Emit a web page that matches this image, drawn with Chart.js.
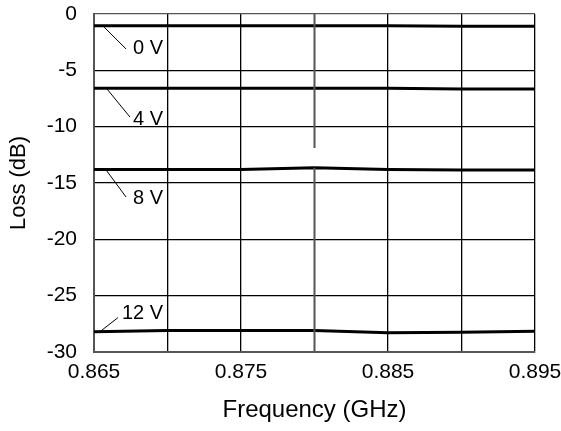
<!DOCTYPE html>
<html>
<head>
<meta charset="utf-8">
<script src="https://cdn.jsdelivr.net/npm/chart.js@4/dist/chart.umd.min.js"></script>
<style>
  html, body { margin: 0; padding: 0; background: #fff; }
  #wrap { width: 561px; height: 431px; }
</style>
</head>
<body>
<div id="wrap"><canvas id="loss-chart"></canvas></div>
<script>
const freqs = [0.865, 0.870, 0.875, 0.880, 0.885, 0.890, 0.895];
const loss0V = [-1.05, -1.05, -1.05, -1.05, -1.05, -1.08, -1.08];
const loss4V = [-6.6, -6.6, -6.6, -6.6, -6.6, -6.65, -6.65];
const loss8V = [-13.8, -13.8, -13.8, -13.65, -13.8, -13.85, -13.85];
const loss12V = [-28.2, -28.1, -28.1, -28.1, -28.3, -28.25, -28.15];

// the 0.880 grid line is broken in the original
const breakX = [0.88, 0.88, 0.88, 0.88, 0.88];
const breakY = [0, -11.9, null, -13.65, -30];

// label text, text anchor, leader start/end (data units)
const labelText = ['0 V', '4 V', '8 V', '12 V'];
const labelX = [0.86765, 0.86765, 0.86765, 0.8669];
const labelY = [-3.1, -9.4, -16.4, -26.6];
const leaderX0 = [0.86568, 0.86588, 0.86582, 0.86541];
const leaderY0 = [-1.15, -6.65, -13.84, -28.19];
const leaderX1 = [0.86718, 0.86745, 0.86718, 0.86663];
const leaderY1 = [-3.1, -9.15, -16.24, -26.95];

const font = "'Liberation Sans', Arial, sans-serif";

function toPoints(xs, ys) {
  return xs.map((x, i) => ({ x: x, y: ys[i] }));
}

function curve(ys) {
  return {
    data: toPoints(freqs, ys),
    borderColor: '#000',
    borderWidth: 3,
    pointRadius: 0,
    tension: 0,
    fill: false,
  };
}

const labelPlugin = {
  id: 'voltLabels',
  afterDatasetsDraw(chart) {
    const ctx = chart.ctx;
    const xs = chart.scales.x;
    const ys = chart.scales.y;
    ctx.save();
    ctx.strokeStyle = '#000';
    ctx.lineWidth = 1;
    ctx.fillStyle = '#000';
    ctx.font = '20px ' + font;
    ctx.textBaseline = 'middle';
    ctx.textAlign = 'left';
    labelText.forEach((t, i) => {
      ctx.beginPath();
      ctx.moveTo(xs.getPixelForValue(leaderX0[i]), ys.getPixelForValue(leaderY0[i]));
      ctx.lineTo(xs.getPixelForValue(leaderX1[i]), ys.getPixelForValue(leaderY1[i]));
      ctx.stroke();
      ctx.fillText(t, xs.getPixelForValue(labelX[i]), ys.getPixelForValue(labelY[i]));
    });
    ctx.restore();
  },
};

const ctx = document.getElementById('loss-chart').getContext('2d');
new Chart(ctx, {
  type: 'line',
  data: {
    datasets: [
      {
        data: toPoints(breakX, breakY),
        borderColor: '#555',
        borderWidth: 2,
        pointRadius: 0,
        spanGaps: false,
      },
      curve(loss0V),
      curve(loss4V),
      curve(loss8V),
      curve(loss12V),
    ],
  },
  options: {
    responsive: true,
    maintainAspectRatio: false,
    animation: false,
    layout: { padding: { top: 14, right: 26, left: 0, bottom: 0 } },
    plugins: {
      legend: { display: false },
      tooltip: { enabled: false },
    },
    scales: {
      x: {
        type: 'linear',
        min: 0.865,
        max: 0.895,
        border: { color: '#555', width: 2 },
        grid: {
          drawTicks: false,
          lineWidth: 1.3,
          color: (c) => (Math.round(c.tick.value * 1000) === 880 ? 'rgba(0,0,0,0)' : '#000'),
        },
        ticks: {
          stepSize: 0.005,
          padding: 8,
          color: '#000',
          font: { family: font, size: 21 },
          maxRotation: 0,
          autoSkip: false,
          callback: (v) => {
            const k = Math.round(v * 1000);
            return (k - 865) % 10 === 0 ? v.toFixed(3) : '';
          },
        },
        title: {
          display: true,
          text: 'Frequency (GHz)',
          color: '#000',
          font: { family: font, size: 24 },
          padding: { top: 9, bottom: 6 },
        },
        afterFit: (scale) => {
          scale.height = 79;
          scale.paddingLeft = 0;
          scale.paddingRight = 0;
        },
      },
      y: {
        min: -30,
        max: 0,
        border: { color: '#555', width: 2 },
        grid: {
          drawTicks: false,
          lineWidth: 1.3,
          color: (c) => (c.tick.value === 0 || c.tick.value === -30 ? '#555' : '#000'),
        },
        ticks: {
          stepSize: 5,
          padding: 17,
          color: '#000',
          font: { family: font, size: 21 },
        },
        title: {
          display: true,
          text: 'Loss (dB)',
          color: '#000',
          font: { family: font, size: 22 },
          padding: { top: 6, bottom: 0 },
        },
        afterFit: (scale) => {
          scale.width = 94;
          scale.paddingTop = 0;
          scale.paddingBottom = 0;
        },
      },
    },
  },
  plugins: [labelPlugin],
});
</script>
</body>
</html>
